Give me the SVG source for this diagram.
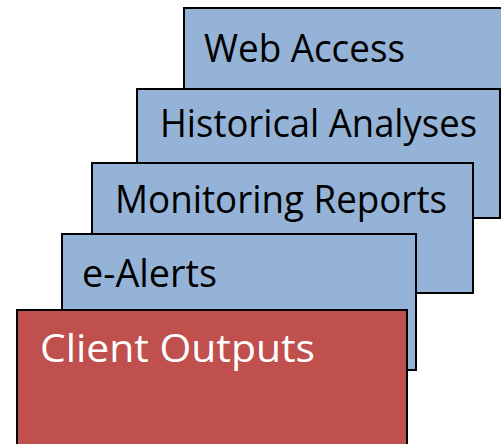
<svg xmlns="http://www.w3.org/2000/svg" width="501" height="444" viewBox="0 0 501 444">
  <style>
    .card { stroke: #000; stroke-width: 2; }
    .blue { fill: #95B3D7; }
    .red { fill: #C0504D; }
    .lbl { font-family: "Open Sans", "Liberation Sans", sans-serif; font-size: 38px; fill: #000; }
    .lbl-w { fill: #fff; }
  </style>
  <rect width="501" height="444" fill="#fff"/>
  <g id="connectors"></g>
  <g id="web-access">
    <rect class="card blue" x="184" y="8" width="330" height="180"/>
    <text class="lbl" x="204" y="62" textLength="201" lengthAdjust="spacingAndGlyphs">Web Access</text>
  </g>
  <g id="historical-analyses">
    <rect class="card blue" x="137" y="89" width="363" height="129"/>
    <text class="lbl" x="160" y="137" textLength="317" lengthAdjust="spacingAndGlyphs">Historical Analyses</text>
  </g>
  <g id="monitoring-reports">
    <rect class="card blue" x="92" y="163" width="381" height="130"/>
    <text class="lbl" x="115" y="213" textLength="332" lengthAdjust="spacingAndGlyphs">Monitoring Reports</text>
  </g>
  <g id="e-alerts">
    <rect class="card blue" x="62" y="234" width="354" height="136"/>
    <text class="lbl" x="82" y="287" textLength="135" lengthAdjust="spacingAndGlyphs">e-Alerts</text>
  </g>
  <g id="client-outputs">
    <rect class="card red" x="17" y="310" width="390" height="150"/>
    <text class="lbl lbl-w" x="40" y="362" textLength="275" lengthAdjust="spacingAndGlyphs">Client Outputs</text>
  </g>
</svg>
